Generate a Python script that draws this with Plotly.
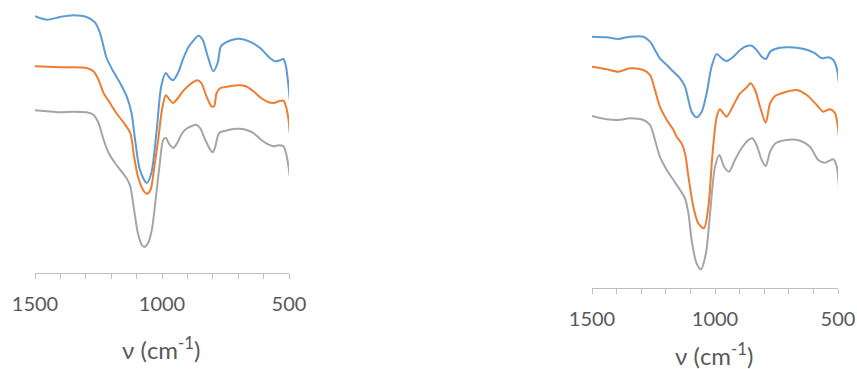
import plotly.graph_objects as go

# ---------- Left panel data (wavenumber cm-1, signal in arbitrary units) ----------
left_blue_x = [1500, 1454, 1402, 1349, 1297, 1264, 1244, 1218, 1192, 1165, 1139, 1120, 1106, 1087,
               1060, 1042, 1022, 1003, 985, 970, 957, 937, 918, 898, 879, 856, 840, 820, 798, 781,
               768, 748, 722, 696, 657, 614, 575, 555, 535, 522, 512, 502, 497]
left_blue_y = [256.7, 253.3, 256, 257.7, 256, 250.7, 240, 215, 201.7, 190, 176.7, 160, 133.3, 103.3,
               90, 100, 140, 186.7, 200, 195, 192.7, 200, 213.3, 225, 231.7, 237.3, 233.3, 216.7, 201.7, 210,
               226.7, 230.7, 233.3, 234.3, 231.7, 225, 215, 211.7, 212.7, 214, 206.7, 186.7, 173.3]

left_orange_x = [1500, 1402, 1297, 1270, 1250, 1230, 1205, 1180, 1150, 1125, 1110, 1095, 1075, 1060,
                 1045, 1030, 1015, 1000, 985, 970, 957, 937, 918, 898, 879, 860, 845, 825, 805, 795,
                 785, 770, 748, 722, 696, 670, 640, 610, 580, 560, 540, 522, 512, 502, 497]
left_orange_y = [206.7, 205.7, 205, 201.7, 193.3, 180, 170, 160, 150, 140, 116.7, 96.7, 83.3, 79.3,
                 83.3, 106.7, 133.3, 163.3, 177.7, 173.3, 170, 175, 181.7, 186.7, 190.7, 192.7, 190, 176.7, 166.7, 166.7,
                 180, 185, 186, 187.3, 187.7, 186.7, 181.7, 175, 170.7, 170, 171.7, 172.3, 166.7, 153.3, 140]

left_gray_x = [1500, 1454, 1402, 1349, 1297, 1270, 1250, 1230, 1210, 1185, 1160, 1140, 1125, 1110,
               1095, 1080, 1070, 1055, 1040, 1025, 1010, 995, 985, 970, 955, 940, 920, 900, 880, 865,
               850, 830, 810, 800, 790, 775, 750, 720, 696, 670, 640, 610, 580, 560, 540, 522, 512, 502, 497]
left_gray_y = [162.7, 161.7, 160.7, 161.3, 160.7, 158.3, 150, 133.3, 120, 110, 101.7, 95, 86.7, 63.3,
               40, 28.3, 26, 30, 43.3, 73.3, 106.7, 133.3, 135, 128.3, 125, 130, 140, 145, 147.3, 148.3,
               145, 133.3, 123.3, 120.7, 126.7, 140, 142.3, 144, 144.3, 143.3, 140, 133.3, 128.3, 126.7, 127.7, 126.7, 120, 106.7, 96.7]

# ---------- Right panel data ----------
right_blue_x = [1500, 1440, 1393, 1346, 1291, 1264, 1244, 1224, 1196, 1169, 1142, 1122, 1108, 1095,
                1075, 1054, 1034, 1014, 993, 973, 953, 925, 898, 871, 851, 831, 810, 793, 776, 756,
                709, 654, 600, 566, 539, 519, 505, 497]
right_blue_y = [251.3, 250.7, 249, 251.3, 251.3, 246.3, 238, 229.7, 223, 216.3, 209.7, 201.3, 188, 176.3,
                170.7, 176.3, 194.7, 221.3, 234, 229.7, 227, 231.3, 238, 242, 242.3, 238, 231.3, 229, 236.3, 239,
                240.7, 239.7, 235.7, 229.7, 230.7, 228, 219.7, 206.3]

right_orange_x = [1500, 1440, 1393, 1346, 1291, 1264, 1244, 1224, 1196, 1169, 1156, 1136, 1122, 1108,
                  1088, 1068, 1045, 1027, 1010, 993, 980, 966, 953, 925, 898, 875, 855, 837, 817, 794,
                  776, 756, 709, 668, 627, 586, 560, 533, 512, 499, 495]
right_orange_y = [221.3, 218.7, 216.3, 219.7, 218, 213, 198, 181.3, 168, 158, 151.3, 144.7, 134.7, 111.3,
                  81.3, 64.7, 59.7, 81.3, 134.7, 171.3, 178.7, 174.7, 171.3, 183, 194.7, 199.7, 204.7, 198, 181.3, 165.3,
                  184.7, 192, 196.3, 198, 193, 183, 176.3, 178.7, 174.7, 158, 148]

right_gray_x = [1500, 1440, 1393, 1346, 1291, 1264, 1244, 1224, 1196, 1169, 1142, 1122, 1108, 1095,
                1075, 1057, 1037, 1020, 1000, 982, 963, 943, 919, 892, 864, 848, 831, 810, 794, 776,
                756, 709, 654, 614, 580, 553, 519, 505, 495]
right_gray_y = [172, 168.7, 168, 169.7, 168, 163, 148, 131.3, 118, 108, 98, 89.7, 74.7, 48,
                24.7, 18.7, 34.7, 74.7, 121.3, 133, 121.3, 116.3, 128, 139.7, 148, 149.7, 143, 128, 122, 136.3,
                144.3, 148, 147.3, 141.3, 128, 125.3, 128.7, 121.3, 96.3]

tick_vals = [1500, 1000, 500]
tick_text = ["1500", "1000", "500"]
axis_title = "ν (cm<sup>-1</sup>)"

BLUE = "#5B9BD5"
ORANGE = "#ED7D31"
GRAY = "#A5A5A5"
FONT = "Lato, Open Sans, sans-serif"

fig = go.Figure()
series = [
    (left_blue_x, left_blue_y, BLUE, "x", "y"),
    (left_orange_x, left_orange_y, ORANGE, "x", "y"),
    (left_gray_x, left_gray_y, GRAY, "x", "y"),
    (right_blue_x, right_blue_y, BLUE, "x2", "y2"),
    (right_orange_x, right_orange_y, ORANGE, "x2", "y2"),
    (right_gray_x, right_gray_y, GRAY, "x2", "y2"),
]
for xs, ys, col, xa, ya in series:
    fig.add_trace(go.Scatter(x=xs, y=ys, mode="lines", xaxis=xa, yaxis=ya,
                             line=dict(color=col, width=2, shape="spline", smoothing=0.8),
                             showlegend=False, hoverinfo="skip", cliponaxis=False))

W, H = 857, 369

def fx(px):
    return px / W

def fy(py):
    return (H - py) / H

def xaxis_cfg(x0, x1):
    return dict(domain=[fx(x0), fx(x1)], range=[1500, 500], tickvals=tick_vals, ticktext=tick_text,
                ticks="outside", ticklen=5, tickcolor="#BFBFBF", tickwidth=1,
                showline=True, linecolor="#BFBFBF", linewidth=1, showgrid=False, zeroline=False,
                minor=dict(dtick=100, ticks="outside", ticklen=5, tickcolor="#BFBFBF", tickwidth=1, showgrid=False),
                tickfont=dict(family=FONT, size=20, color="#595959"),
                ticklabelstandoff=8, automargin=False, fixedrange=True)

def yaxis_cfg(axis_px, top_px, top_val, anchor):
    return dict(domain=[fy(axis_px), fy(top_px)], range=[0, top_val], visible=False,
                showgrid=False, zeroline=False, anchor=anchor, automargin=False, fixedrange=True)

fig.update_layout(
    template="none",
    width=W, height=H,
    margin=dict(l=0, r=0, t=0, b=0, pad=0),
    paper_bgcolor="white", plot_bgcolor="rgba(0,0,0,0)",
    xaxis=dict(**xaxis_cfg(35, 289), anchor="y"),
    yaxis=yaxis_cfg(273, 8, 265, "x"),
    xaxis2=dict(**xaxis_cfg(592, 838), anchor="y2"),
    yaxis2=yaxis_cfg(288, 20, 268, "x2"),
    annotations=[
        dict(text=axis_title, xref="paper", yref="paper", x=fx(161), y=fy(348),
             showarrow=False, xanchor="center", yanchor="middle",
             font=dict(family=FONT, size=24, color="#595959")),
        dict(text=axis_title, xref="paper", yref="paper", x=fx(714), y=fy(354),
             showarrow=False, xanchor="center", yanchor="middle",
             font=dict(family=FONT, size=24, color="#595959")),
    ],
)

fig.write_html("out.html",
               config={"displayModeBar": False, "staticPlot": True},
               post_script="document.body.style.margin='0';document.body.style.overflow='hidden';")
